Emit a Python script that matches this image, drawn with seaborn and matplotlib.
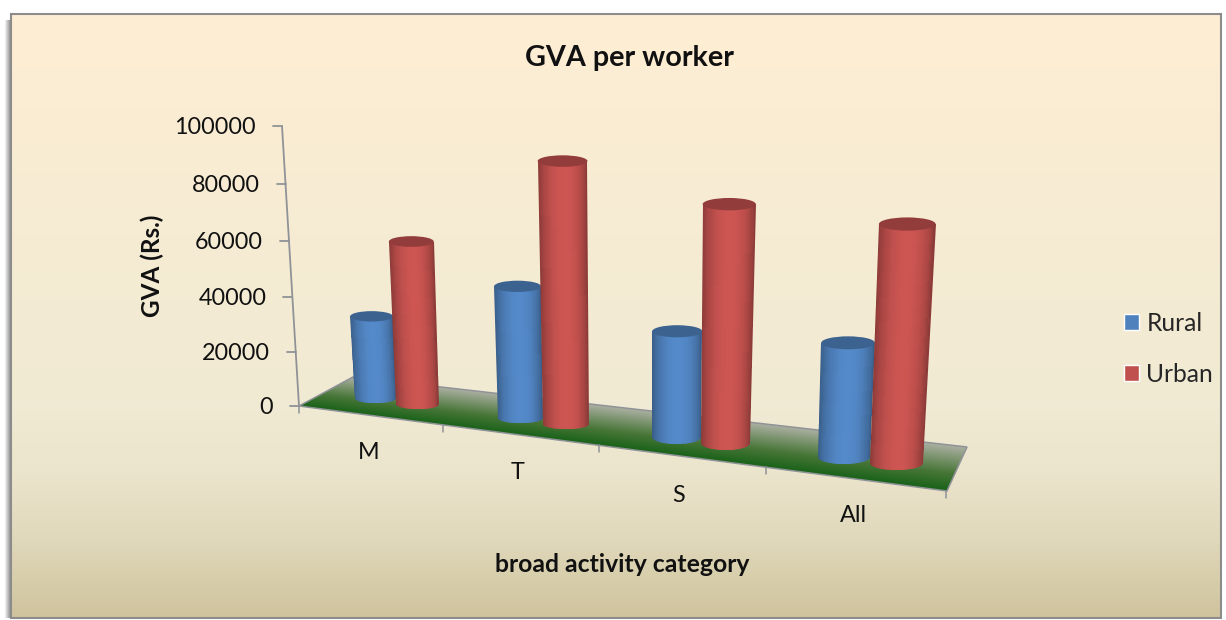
#!/usr/bin/env python3

import matplotlib

matplotlib.use("Agg")

import matplotlib.pyplot as plt
import matplotlib.transforms as mtransforms
import numpy as np
import pandas as pd
import seaborn as sns
from matplotlib.patches import Ellipse, PathPatch, Polygon
from matplotlib.path import Path

categories = ["M", "T", "S", "All"]
rural = [30000, 48000, 39000, 42000]
urban = [59000, 94000, 86000, 86000]
series_names = ["Rural", "Urban"]
series_colors = ["#4F81BD", "#C0504D"]
y_ticks = [0, 20000, 40000, 60000, 80000, 100000]

W, H = 1226, 620
FONT = "Lato"

sns.set_theme(style="white")
plt.rcParams["font.family"] = [FONT, "DejaVu Sans"]


def to_screen(v):
    # pixels above the zero line, the value axis is a little foreshortened
    t = np.asarray(v, dtype=float) / 20000
    return 53.5 * t + 0.5 * t * t


def from_screen(p):
    p = np.asarray(p, dtype=float)
    return 20000 * (-53.5 + np.sqrt(np.maximum(53.5**2 + 2 * p, 0)))


def bar_x(s):
    # perspective along the category axis
    return 396.5 + 141 * s + 5.6 * s * s


def bar_base_y(s):
    return 406 + 20.3 * s


def front_x(k):
    return 299 + 138.1 * k + 5.9 * k * k


def front_y(x):
    return 406 + 0.1312 * (x - 299)


def back_y(x):
    return 377 + 0.114 * (x - 353)


def axis_x(v):
    return 299 - 17 * to_screen(v) / 280


def draw_background(bg):
    stops_y = [14, 200, 400, 470, 540, 618]
    stops_rgb = np.array(
        [
            [254, 238, 212],
            [247, 236, 211],
            [241, 234, 212],
            [236, 229, 205],
            [223, 216, 186],
            [207, 195, 156],
        ]
    )
    rows = np.arange(620)
    grad = np.stack([np.interp(rows, stops_y, stops_rgb[:, i]) for i in range(3)], 1)
    img = grad[:, None, :].astype(np.uint8)
    panel = bg.imshow(img, extent=(0, W, H, 0), aspect="auto", zorder=1)
    clip = Polygon(
        [(11, 14), (1221, 14), (1221, 618), (11, 618)],
        transform=bg.transData,
        fill=False,
    )
    panel.set_clip_path(clip)
    bg.add_patch(
        Polygon(
            [(11, 14), (1221, 14), (1221, 618), (11, 618)],
            fill=False,
            edgecolor="#8C8C8C",
            linewidth=1.5,
            zorder=2,
        )
    )
    # soft shadow on the left of the panel
    shadow = np.linspace(1, 0.55, 7)[None, :]
    bg.imshow(
        shadow,
        extent=(4, 11, 618, 20),
        aspect="auto",
        cmap="gray",
        vmin=0,
        vmax=1,
        zorder=1,
    )
    bg.set_xlim(0, W)
    bg.set_ylim(H, 0)


def draw_floor(bg):
    corners = [(299, 406), (353, 377), (967, 447), (947, 491)]
    xx, yy = np.meshgrid(np.arange(W) + 0.5, np.arange(H) + 0.5)
    t = np.clip((front_y(xx) - yy) / (front_y(xx) - back_y(xx)), 0, 1)
    stops = np.array([[24, 98, 24], [72, 118, 56], [172, 176, 162]])
    img = np.stack(
        [np.interp(t, [0, 0.4, 1], stops[:, i]) for i in range(3)], 2
    ).astype(np.uint8)
    floor = bg.imshow(img, extent=(0, W, H, 0), aspect="auto", zorder=3)
    floor.set_clip_path(Polygon(corners, transform=bg.transData, fill=False))
    bg.add_patch(
        Polygon(corners, fill=False, edgecolor="#8F9397", linewidth=1.1, zorder=4)
    )
    # category ticks on the front edge
    for k in range(5):
        x = front_x(k)
        y = front_y(x)
        bg.plot([x, x], [y, y + 7], color="#8F9397", lw=1.1, zorder=4)
    bg.set_xlim(0, W)
    bg.set_ylim(H, 0)


def draw_value_axis(over, ax):
    over.plot(
        [axis_x(y_ticks[0]), axis_x(y_ticks[-1])],
        [406, 406 - to_screen(y_ticks[-1])],
        color="#8F9397",
        lw=1.3,
    )
    for v in y_ticks:
        x = axis_x(v)
        y = 406 - to_screen(v)
        over.plot([x - 9, x], [y, y], color="#8F9397", lw=1.3)
    for v, label in zip(y_ticks, ax.get_yticklabels()):
        shift = mtransforms.Affine2D().translate(axis_x(v) - 26, 0)
        label.set_transform(label.get_transform() + shift)


def draw_cylinder(over, ax, bar):
    half = bar.get_width() / 2
    s = bar.get_x() + half
    height = float(to_screen(bar.get_height()))
    base = np.array(bar.get_facecolor()[:3])

    x0 = bar_x(s)
    w = bar_x(s + half) - bar_x(s - half)
    b = 0.125 * w
    bottom = bar_base_y(s)
    base_y = bottom - b
    top_y = base_y - height
    top_x = x0 + (x0 - 640) * 0.00018 * height
    top_w = w * (1 + 0.0003 * height)

    # body: thin vertical strips, darker towards both edges
    n = 48
    u = np.linspace(0, 1, n + 1)
    xs = np.vstack(
        [top_x - top_w / 2 + u * top_w, x0 - w / 2 + u * w]
    )
    ys = np.vstack([np.full(n + 1, top_y), np.full(n + 1, bottom)])
    mid = (u[:-1] + u[1:]) / 2
    shade = 0.68 + 0.39 * np.sin(np.pi * mid ** 1.1) ** 0.6
    colors = np.clip(base[None, :] * shade[:, None], 0, 1)[None, :, :]
    mesh = over.pcolormesh(xs, ys, colors, shading="flat", antialiased=False, zorder=5)

    # outline with rounded bottom for clipping
    k = 0.5523
    verts = [
        (top_x - top_w / 2, top_y),
        (top_x + top_w / 2, top_y),
        (x0 + w / 2, base_y),
        (x0 + w / 2, base_y + k * b),
        (x0 + k * w / 2, bottom),
        (x0, bottom),
        (x0 - k * w / 2, bottom),
        (x0 - w / 2, base_y + k * b),
        (x0 - w / 2, base_y),
        (top_x - top_w / 2, top_y),
    ]
    codes = [Path.MOVETO, Path.LINETO, Path.LINETO] + [Path.CURVE4] * 6 + [Path.CLOSEPOLY]
    outline = PathPatch(Path(verts, codes), transform=over.transData, fill=False)
    mesh.set_clip_path(outline)

    over.add_patch(
        Ellipse(
            (top_x, top_y),
            top_w,
            2 * b,
            facecolor=base * 0.76,
            edgecolor="none",
            zorder=5,
        )
    )

    # keep the seaborn bar underneath, moved to where the cylinder stands
    inv = ax.transData.inverted()
    cx = (x0 + top_x) / 2
    (dx0, dy0), (dx1, dy1) = inv.transform(
        [(cx - 0.3 * w, H - base_y), (cx + 0.3 * w, H - top_y)]
    )
    bar.set_x(dx0)
    bar.set_width(dx1 - dx0)
    bar.set_y(dy0)
    bar.set_height(dy1 - dy0)


def main():
    df = pd.DataFrame(
        {
            "category": categories * 2,
            "series": [series_names[0]] * 4 + [series_names[1]] * 4,
            "value": rural + urban,
        }
    )

    fig = plt.figure(figsize=(W / 100, H / 100), dpi=100, facecolor="white")
    bg = fig.add_axes([0, 0, 1, 1], zorder=0)
    bg.axis("off")
    ax = fig.add_axes([0, 0, 1, 1], zorder=1)
    ax.patch.set_alpha(0)
    over = fig.add_axes([0, 0, 1, 1], zorder=2)
    over.axis("off")
    over.patch.set_alpha(0)

    draw_background(bg)
    draw_floor(bg)

    sns.barplot(
        df,
        ax=ax,
        x="category",
        y="value",
        hue="series",
        order=categories,
        hue_order=series_names,
        palette=series_colors,
        width=0.6,
        saturation=1,
        gap=0,
    )
    ax.set_xlim(-396.5 / 150, (W - 396.5) / 150)
    ax.set_yscale("function", functions=(to_screen, from_screen))
    ax.set_ylim(from_screen(-(H - 406)), from_screen(406))
    sns.despine(ax=ax, left=True, bottom=True)

    ax.set_yticks(y_ticks)
    ax.set_yticklabels([str(v) for v in y_ticks])
    ax.minorticks_off()
    ax.tick_params(axis="both", length=0, pad=0, labelsize=16.8, labelcolor="#111111")

    # category labels sit below the sloping floor
    label_y = [451, 471, 494, 514]
    ax.set_xticks(range(len(categories)))
    ax.set_xticklabels(categories)
    for i, label in enumerate(ax.get_xticklabels()):
        target_x = [369, 518, 679, 853][i]
        shift = mtransforms.Affine2D().translate(
            target_x - (396.5 + 150 * i), H - label_y[i] + 9
        )
        label.set_transform(label.get_transform() + shift)

    over.set_xlim(0, W)
    over.set_ylim(H, 0)
    draw_value_axis(over, ax)
    for bar in list(ax.patches):
        draw_cylinder(over, ax, bar)
    over.set_xlim(0, W)
    over.set_ylim(H, 0)

    ax.set_title(
        "GVA per worker",
        x=629 / W,
        y=1 - 66 / H,
        pad=0,
        fontsize=20.7,
        fontweight="bold",
        color="#111111",
    )
    ax.set_xlabel(
        "broad activity category", fontsize=17.8, fontweight="bold", color="#111111", va="center"
    )
    ax.xaxis.set_label_coords(622 / W, 1 - 565 / H)
    ax.set_ylabel(
        "GVA (Rs.)", fontsize=17.5, fontweight="bold", color="#111111", va="center", ha="center"
    )
    ax.yaxis.set_label_coords(152 / W, 1 - 266 / H)

    sns.move_legend(
        ax,
        loc="upper left",
        bbox_to_anchor=(1124 / W, 1 - 312 / H),
        title=None,
        frameon=False,
        fontsize=17.7,
        handlelength=0.61,
        handleheight=0.61,
        handletextpad=0.3,
        labelspacing=1.12,
        borderpad=0,
        borderaxespad=0,
    )

    fig.savefig("out.png", dpi=100)


if __name__ == "__main__":
    main()
